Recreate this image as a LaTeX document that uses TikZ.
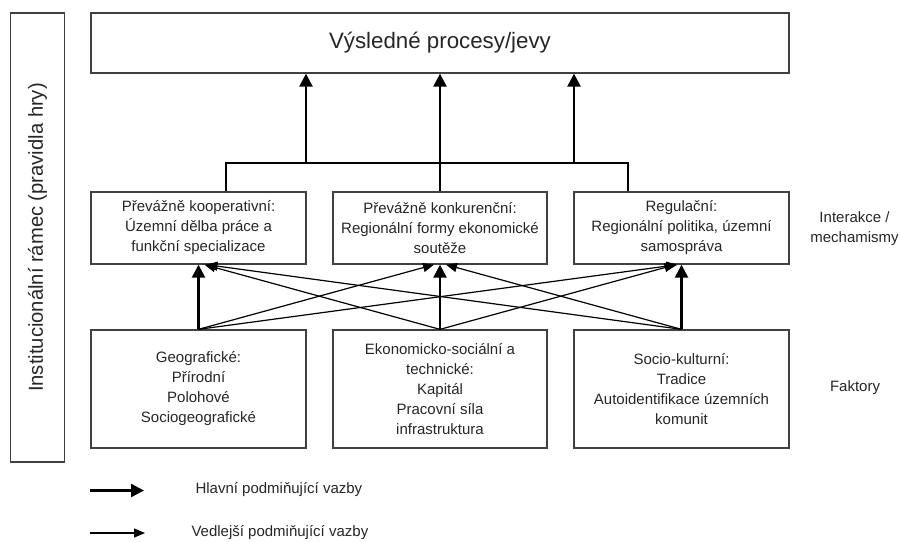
\documentclass[tikz,border=0pt]{standalone}
\usepackage{fontspec}
\setmainfont{Liberation Sans}
\usetikzlibrary{arrows.meta}

\begin{document}
\begin{tikzpicture}[x=1pt,y=-1pt,
    box/.style={draw=black!75,line width=1.3pt,align=center,inner sep=2pt,
                font=\fontsize{15}{20}\selectfont,text=black!85},
    main/.style={line width=2.4pt,-{Triangle[length=13pt,width=13pt]}},
    side/.style={line width=1.2pt,-{Triangle[length=11pt,width=9pt]}},
    lbl/.style={align=center,font=\fontsize{15}{20}\selectfont,text=black!85}]
              \useasboundingbox (0,0) rectangle (901,541);
              % rámec a výsledek
              \node[box,rotate=90,minimum width=449,minimum height=54,
                    font=\fontsize{20.2}{24}\selectfont](inst)at(37.5,237.5){Institucionální rámec (pravidla hry)};
              \node[box,minimum width=698,minimum height=60,
                    font=\fontsize{22.3}{26}\selectfont](res)at(440,43){Výsledné procesy/jevy};
              % interakce
              \node[box,minimum width=215,minimum height=72](m1)at(198.5,228)
                  {Převážně kooperativní:\\Územní dělba práce a\\funkční specializace};
              \node[box,minimum width=214,minimum height=72](m2)at(440,228)
                  {Převážně konkurenční:\\Regionální formy ekonomické\\soutěže};
              \node[box,minimum width=215,minimum height=72](m3)at(681.5,228)
                  {Regulační:\\Regionální politika, územní\\samospráva};
              % faktory
              \node[box,minimum width=215,minimum height=118](f1)at(198.5,389)
                  {Geografické:\\Přírodní\\Polohové\\Sociogeografické};
              \node[box,minimum width=214,minimum height=118](f2)at(440,389)
                  {Ekonomicko-sociální a\\technické:\\Kapitál\\Pracovní síla\\infrastruktura};
              \node[box,minimum width=215,minimum height=118](f3)at(681.5,389)
                  {Socio-kulturní:\\Tradice\\Autoidentifikace územních\\komunit};
              \node[lbl](int)at(854.5,229){Interakce /\\mechamismy};
              \node[lbl](fak)at(855,388){Faktory};
              % hlavni vazby
              \draw[main](f1.north)--(m1.south);
              \draw[main](f2.north)--(m2.south);
              \draw[main](f3.north)--(m3.south);
              % vedlejsi vazby
              \draw[side](f1.north)--([xshift=-6pt]m2.south);
              \draw[side](f1.north)--([xshift=-4pt]m3.south);
              \draw[side](f2.north)--([xshift=6pt]m1.south);
              \draw[side](f2.north)--([xshift=-6pt]m3.south);
              \draw[side](f3.north)--([xshift=8pt]m1.south);
              \draw[side](f3.north)--([xshift=6pt]m2.south);
              % sbernice nahoru
              \coordinate(busL)at(226,163);
              \coordinate(busR)at(628,163);
              \coordinate(a1)at([xshift=-134pt]res.south);
              \coordinate(a3)at([xshift=134pt]res.south);
              \draw[line width=2.4pt]([xshift=27.5pt]m1.north)--(busL)--(busR)--([xshift=-53.5pt]m3.north);
              \draw[main](a1|-busL)--(a1);
              \draw[main](m2.north)--(res.south);
              \draw[main](a3|-busL)--(a3);
              % legenda
              \coordinate(l1)at(90,490.5);
              \coordinate(l2)at(90,533);
              \node[lbl,anchor=west](hl)at(192,490){Hlavní podmiňující vazby};
              \node[lbl,anchor=west](vl)at(188,533){Vedlejší podmiňující vazby};
              \draw[main](l1)--++(54,0);
              \draw[side](l2)--++(55,0);
            \end{tikzpicture}
\end{document}
